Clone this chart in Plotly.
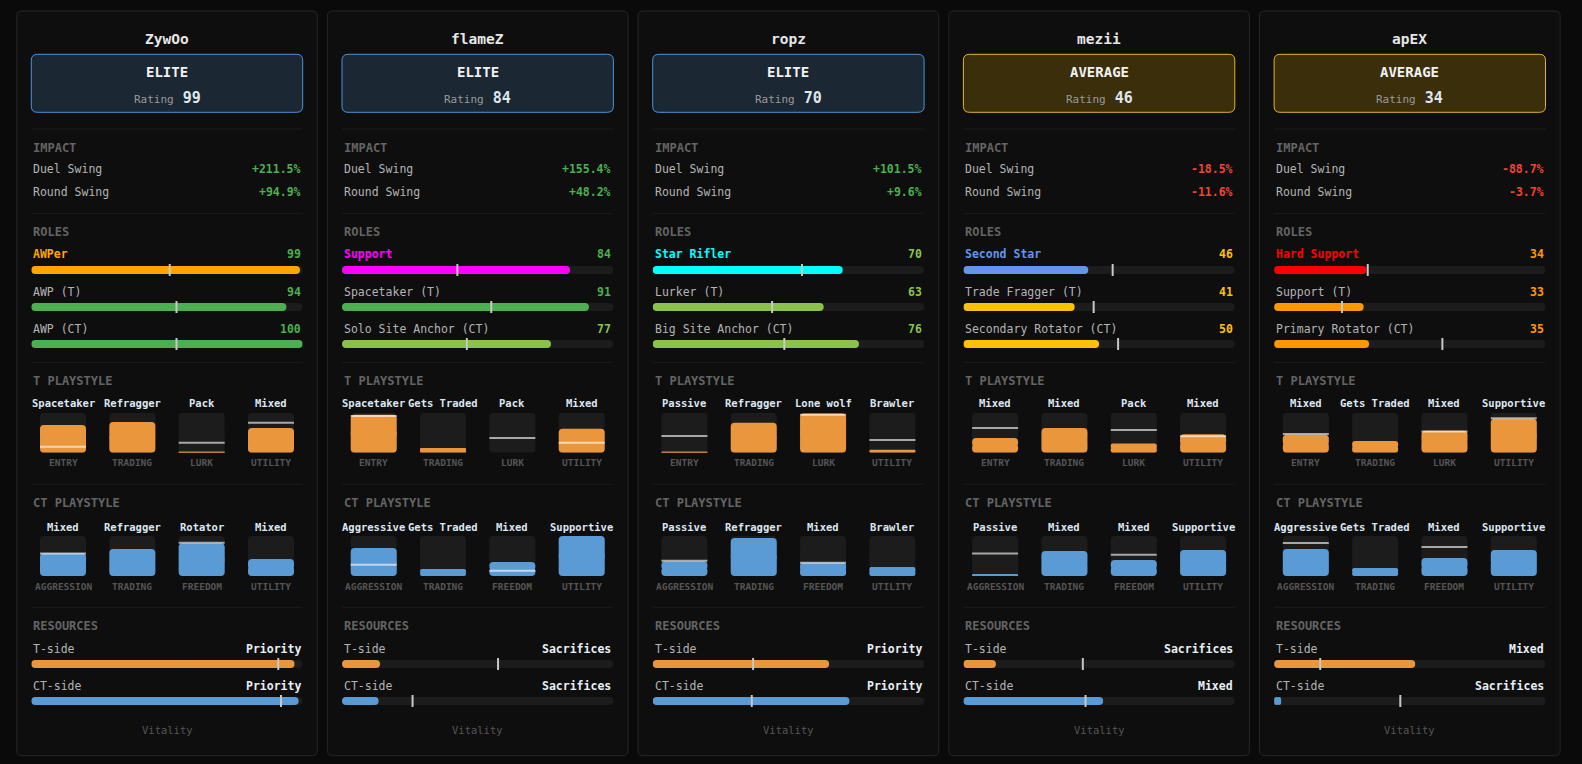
import plotly.graph_objects as go

# === 1. Data ===
team = "Vitality"
players = ["ZywOo", "flameZ", "ropz", "mezii", "apEX"]
tiers = ["ELITE", "ELITE", "ELITE", "AVERAGE", "AVERAGE"]
ratings = [99, 84, 70, 46, 34]
duel_swing = [211.5, 155.4, 101.5, -18.5, -88.7]
round_swing = [94.9, 48.2, 9.6, -11.6, -3.7]

role_names = [
    ["AWPer", "AWP (T)", "AWP (CT)"],
    ["Support", "Spacetaker (T)", "Solo Site Anchor (CT)"],
    ["Star Rifler", "Lurker (T)", "Big Site Anchor (CT)"],
    ["Second Star", "Trade Fragger (T)", "Secondary Rotator (CT)"],
    ["Hard Support", "Support (T)", "Primary Rotator (CT)"],
]
role_scores = [[99, 94, 100], [84, 91, 77], [70, 63, 76], [46, 41, 50], [34, 33, 35]]
role_avgs = [[51, 53.5, 53.5], [42.5, 55, 46], [55, 44, 48.5], [55, 48, 57], [34.5, 25, 62]]
primary_role_colors = ["#ffa500", "#ff00ff", "#00ffff", "#6495ed", "#ff0000"]

t_axes = ["ENTRY", "TRADING", "LURK", "UTILITY"]
ct_axes = ["AGGRESSION", "TRADING", "FREEDOM", "UTILITY"]

t_styles = [
    ["Spacetaker", "Refragger", "Pack", "Mixed"],
    ["Spacetaker", "Gets Traded", "Pack", "Mixed"],
    ["Passive", "Refragger", "Lone wolf", "Brawler"],
    ["Mixed", "Mixed", "Pack", "Mixed"],
    ["Mixed", "Gets Traded", "Mixed", "Supportive"],
]
t_values = [[69, 77, 2, 62], [95, 12, 0, 60], [2, 75, 98, 7], [37, 62, 23, 46], [45, 29, 55, 85]]
t_avgs = [[15, None, 25, 75], [92, None, 37, 25], [42, None, 95, 32], [62, None, 57, 41], [47, None, 53, 86]]

ct_styles = [
    ["Mixed", "Refragger", "Rotator", "Mixed"],
    ["Aggressive", "Gets Traded", "Mixed", "Supportive"],
    ["Passive", "Refragger", "Mixed", "Brawler"],
    ["Passive", "Mixed", "Mixed", "Supportive"],
    ["Aggressive", "Gets Traded", "Mixed", "Supportive"],
]
ct_values = [[57, 67.5, 82, 42.5], [70, 17.5, 35, 100], [37, 95, 33, 22.5], [4, 62.5, 40, 65], [67.5, 20, 45, 65]]
ct_avgs = [[56, None, 83, None], [28, None, 13, None], [38, None, 33, None], [56, None, 53, None], [82.5, None, 72.5, None]]

res_sides = ["T-side", "CT-side"]
res_t_labels = ["Priority", "Sacrifices", "Priority", "Sacrifices", "Mixed"]
res_ct_labels = ["Priority", "Sacrifices", "Priority", "Mixed", "Sacrifices"]
res_t = [97, 14, 65, 12, 52]
res_ct = [98.5, 13.5, 72.5, 51.5, 2.6]
res_t_avg = [91, 57.5, 37, 44, 17]
res_ct_avg = [92, 26, 36.5, 45, 46.5]

# === 2. Styling ===
W, H = 1582, 764
FONT = "DejaVu Sans Mono"
C_BG, C_CARD, C_BORDER, C_SEP, C_TRACK = "#0a0a0a", "#0e0e0e", "#262626", "#1c1c1c", "#1c1c1c"
C_T, C_CT = "#e9963d", "#5b9bd5"
C_TITLE, C_LABEL = "#646464", "#b4b4b4"
tier_style = {"ELITE": ("#1b2733", "#4d94db"), "AVERAGE": ("#3a2e0b", "#e6b422")}

CARD_X0, CARD_STEP, CARD_W = 16.7, 310.7, 300.6
CARD_Y0, CARD_Y1 = 11, 755.7
PAD, INNER = 14.6, 271.4


def level_color(v):
    if v >= 80:
        return "#4caf50"
    if v >= 60:
        return "#8bc34a"
    if v >= 40:
        return "#ffc107"
    return "#ff9800"


def X(x):
    return x / W


def Y(y):
    return 1 - y / H


def rrect(x0, y0, x1, y1, r):
    return (f"M{X(x0 + r)},{Y(y0)} H{X(x1 - r)} Q{X(x1)},{Y(y0)} {X(x1)},{Y(y0 + r)} "
            f"V{Y(y1 - r)} Q{X(x1)},{Y(y1)} {X(x1 - r)},{Y(y1)} H{X(x0 + r)} "
            f"Q{X(x0)},{Y(y1)} {X(x0)},{Y(y1 - r)} V{Y(y0 + r)} Q{X(x0)},{Y(y0)} {X(x0 + r)},{Y(y0)} Z")


fig = go.Figure()
shapes, annotations, axes = [], [], {}


def text(x, y, s, size=11.5, color=C_LABEL, anchor="left", bold=False):
    annotations.append(dict(
        x=X(x), y=Y(y), xref="paper", yref="paper", showarrow=False,
        text=f"<b>{s}</b>" if bold else s, xanchor=anchor, yanchor="middle",
        font=dict(family=FONT, size=size, color=color)))


def add_axes(n, x0, x1, y0, y1, xr, yr):
    xk = "xaxis" if n == 1 else f"xaxis{n}"
    yk = "yaxis" if n == 1 else f"yaxis{n}"
    xa = "x" if n == 1 else f"x{n}"
    ya = "y" if n == 1 else f"y{n}"
    axes[xk] = dict(domain=[X(x0), X(x1)], range=xr, visible=False, fixedrange=True, anchor=ya)
    axes[yk] = dict(domain=[Y(y1), Y(y0)], range=yr, visible=False, fixedrange=True, anchor=xa)
    return xa, ya


def pills(xa, ya, vals, pos, color, thick, radius, horizontal):
    # two overlapping halves so both ends get rounded corners
    for fb, fl in ((0.4, 0.6), (0.6, -0.6)):
        base = [v * fb for v in vals]
        length = [v * fl for v in vals]
        common = dict(base=base, width=thick, xaxis=xa, yaxis=ya, hoverinfo="skip",
                      marker=dict(color=color, cornerradius=radius, line=dict(width=0)))
        if horizontal:
            fig.add_trace(go.Bar(x=length, y=pos, orientation="h", **common))
        else:
            fig.add_trace(go.Bar(x=pos, y=length, **common))


def ticks(xa, ya, xs, ys, symbol, length_px, color):
    # plotly line symbols are 1.4 x marker size long
    fig.add_trace(go.Scatter(x=xs, y=ys, mode="markers", xaxis=xa, yaxis=ya, hoverinfo="skip",
                             marker=dict(symbol=symbol, size=length_px / 1.4,
                                         line=dict(width=2, color=color))))


# === 3. Cards ===
for i, name in enumerate(players):
    L = CARD_X0 + i * CARD_STEP
    cx = L + CARD_W / 2
    x0, x1 = L + PAD, L + PAD + INNER
    fill, border = tier_style[tiers[i]]

    shapes.append(dict(type="path", path=rrect(L, CARD_Y0, L + CARD_W, CARD_Y1, 5), xref="paper", yref="paper",
                       fillcolor=C_CARD, line=dict(color=C_BORDER, width=1), layer="below"))
    shapes.append(dict(type="path", path=rrect(x0, 54.3, x1, 112.3, 6), xref="paper", yref="paper",
                       fillcolor=fill, line=dict(color=border, width=1), layer="below"))
    for sy in [129, 213.3, 362.7, 484.3, 607.3]:
        shapes.append(dict(type="line", x0=X(x0), x1=X(x1), y0=Y(sy), y1=Y(sy), xref="paper", yref="paper",
                           line=dict(color=C_SEP, width=1), layer="below"))

    # header
    text(cx, 39.3, name, size=14.5, color="#e6e6e6", anchor="center", bold=True)
    text(cx, 72.3, tiers[i], size=14, color="#f2f2f2", anchor="center", bold=True)
    text(cx, 97.7, f"<span style='color:#9a9a9a;font-size:11px'>Rating</span> <b>{ratings[i]}</b>",
         size=15, color="#dfe6ee", anchor="center")

    # impact
    text(x0, 147.7, "IMPACT", size=12, color=C_TITLE, bold=True)
    for yy, lab, v in [(169, "Duel Swing", duel_swing[i]), (192.3, "Round Swing", round_swing[i])]:
        text(x0, yy, lab)
        text(x1, yy, f"{v:+.1f}%", color="#4caf50" if v >= 0 else "#f44336", anchor="right", bold=True)

    # roles
    text(x0, 232, "ROLES", size=12, color=C_TITLE, bold=True)
    for k, (rn, sc) in enumerate(zip(role_names[i], role_scores[i])):
        yy = 254.3 + k * 37.2
        if k == 0:
            text(x0, yy, rn, color=primary_role_colors[i], bold=True)
        else:
            text(x0, yy, rn)
        text(x1, yy, str(sc), color=level_color(sc), anchor="right", bold=True)
    xa, ya = add_axes(i * 4 + 1, x0, x1, 251.5, 362.5, [0, 100], [2.5, -0.5])
    rows = [0, 1, 2]
    pills(xa, ya, [100] * 3, rows, C_TRACK, 8 / 37, 4, True)
    bar_cols = [primary_role_colors[i]] + [level_color(s) for s in role_scores[i][1:]]
    pills(xa, ya, role_scores[i], rows, bar_cols, 8 / 37, 4, True)
    ticks(xa, ya, role_avgs[i], rows, "line-ns", 12, "#c8c8c8")

    # playstyles
    cols = [0, 1, 2, 3]
    centers = [L + 46.3 + k * 69.33 for k in cols]
    for title, ty, by0, styles, vals, avgs, subs, col, n in [
        ("T PLAYSTYLE", 380.7, 412.7, t_styles[i], t_values[i], t_avgs[i], t_axes, C_T, i * 4 + 2),
        ("CT PLAYSTYLE", 502.7, 536, ct_styles[i], ct_values[i], ct_avgs[i], ct_axes, C_CT, i * 4 + 3),
    ]:
        text(x0, ty, title, size=12, color=C_TITLE, bold=True)
        for c, st, sb in zip(centers, styles, subs):
            text(c, by0 - 9.4, st, size=10.5, color="#dde6f0", anchor="center", bold=True)
            text(c, by0 + 50, sb, size=9.5, color="#555555", anchor="center", bold=True)
        xa, ya = add_axes(n, L + 11.65, L + 288.97, by0, by0 + 40, [-0.5, 3.5], [0, 100])
        pills(xa, ya, [100] * 4, cols, C_TRACK, 0.664, 4, False)
        pills(xa, ya, vals, cols, col, 0.664, 4, False)
        ticks(xa, ya, cols, avgs, "line-ew", 46, "rgba(255,255,255,0.62)")

    # resources
    text(x0, 625.7, "RESOURCES", size=12, color=C_TITLE, bold=True)
    for k, (side, lab) in enumerate(zip(res_sides, [res_t_labels[i], res_ct_labels[i]])):
        yy = 649.3 + k * 37
        text(x0, yy, side)
        text(x1, yy, lab, color="#e8eef5", anchor="right", bold=True)
    xa, ya = add_axes(i * 4 + 4, x0, x1, 645.5, 719.5, [0, 100], [1.5, -0.5])
    pills(xa, ya, [100, 100], [0, 1], C_TRACK, 8 / 37, 4, True)
    pills(xa, ya, [res_t[i], res_ct[i]], [0, 1], [C_T, C_CT], 8 / 37, 4, True)
    ticks(xa, ya, [res_t_avg[i], res_ct_avg[i]], [0, 1], "line-ns", 12, "#c8c8c8")

    text(cx, 730, team, size=10.5, color="#555555", anchor="center")

# === 4. Layout and Export ===
fig.update_layout(
    width=W, height=H,
    margin=dict(l=0, r=0, t=0, b=0),
    paper_bgcolor=C_BG, plot_bgcolor="rgba(0,0,0,0)",
    barmode="overlay", showlegend=False,
    shapes=shapes, annotations=annotations,
    **axes,
)

fig.write_html(
    "out.html",
    config={"displayModeBar": False},
    post_script="document.body.style.margin='0';document.body.style.overflow='hidden';"
                "document.body.style.background='#0a0a0a';",
)
